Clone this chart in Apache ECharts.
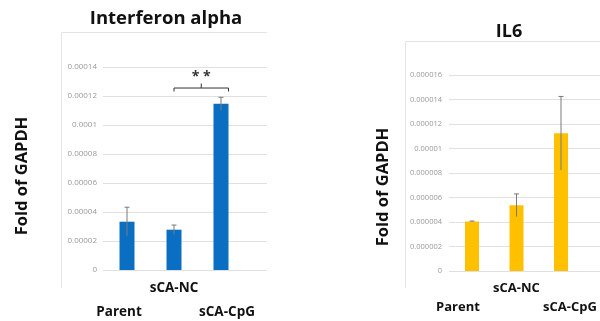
<!DOCTYPE html>
<html><head><meta charset="utf-8">
<script src="https://cdn.jsdelivr.net/npm/echarts@6/dist/echarts.min.js"></script>
<style>html,body{margin:0;padding:0;background:#fff}#c{width:600px;height:321px}</style>
</head><body><div id="c"></div>
<script>
const categories = ['Parent', 'sCA-NC', 'sCA-CpG'];
const ifnMean = [0.0000333, 0.0000278, 0.0001146];
const ifnErr  = [0.0000100, 0.0000032, 0.0000045];
const il6Mean = [0.00000404, 0.00000537, 0.00001125];
const il6Err  = [0.00000004, 0.00000092, 0.00000300];
const ifnAxis = { min: 0, max: 0.00014, interval: 0.00002 };
const il6Axis = { min: 0, max: 0.000016, interval: 0.000002 };
const bracket = { from: 1, to: 2, level: 0.0001255, label: '* *' };

const FONT = 'Open Sans';
const fmt = v => parseFloat(v.toFixed(9)).toString();

function errSeries(xi, yi, mean, err, cap) {
  return {
    type: 'custom', xAxisIndex: xi, yAxisIndex: yi, z: 5,
    data: mean.map((m, i) => [i, m, err[i]]),
    renderItem: (p, api) => {
      const x = api.value(0), m = api.value(1), e = api.value(2);
      const t = api.coord([x, m + e]), b = api.coord([x, m - e]);
      const st = { stroke: '#7a7a7a', lineWidth: 1 };
      return { type: 'group', children: [
        { type: 'line', shape: { x1: t[0], y1: t[1], x2: b[0], y2: b[1] }, style: st },
        { type: 'line', shape: { x1: t[0] - cap, y1: t[1], x2: t[0] + cap, y2: t[1] }, style: st }
      ]};
    }
  };
}

const labelFmt = (v, i) => i === 1 ? '{m|' + v + '}' : (i === 0 ? '{l|' + v + '}' : '{r|' + v + '}');
function catAxis(gi, margin, lo, shiftL, shiftR, size) {
  const base = { fontFamily: FONT, fontWeight: 'bold', fontSize: size, color: '#111' };
  return {
    type: 'category', gridIndex: gi, data: categories,
    axisLine: { show: false }, axisTick: { show: false },
    axisLabel: {
      interval: 0, margin: margin, formatter: labelFmt,
      rich: {
        m: Object.assign({}, base),
        l: Object.assign({ padding: [lo, shiftL, 0, 0] }, base),
        r: Object.assign({ padding: [lo, 0, 0, shiftR] }, base)
      }
    }
  };
}
function gridYAxis(gi, ax, fs, margin) {
  return {
    type: 'value', gridIndex: gi, min: ax.min, max: ax.max, interval: ax.interval,
    axisLine: { show: false }, axisTick: { show: false },
    axisLabel: { formatter: fmt, fontSize: fs, color: '#999', fontFamily: FONT, margin: margin },
    splitLine: { lineStyle: { color: '#e0e0e0', width: 1 } }
  };
}
function hiddenY(gi, ax) {
  return { type: 'value', gridIndex: gi, min: ax.min, max: ax.max, interval: ax.interval, show: false, splitLine: { show: false } };
}

const chart = echarts.init(document.getElementById('c'), null, { renderer: 'canvas' });
chart.setOption({
  animation: false,
  backgroundColor: '#fff',
  title: [
    { text: 'Interferon alpha', left: 161, top: 4, textAlign: 'center',
      textStyle: { fontFamily: FONT, fontWeight: 'bold', fontSize: 18.5, color: '#111' } },
    { text: 'IL6', left: 504, top: 18, textAlign: 'center',
      textStyle: { fontFamily: FONT, fontWeight: 'bold', fontSize: 18, color: '#111' } }
  ],
  grid: [
    { left: 103, width: 164, top: 67, bottom: 51 },
    { left: 103.5, width: 141, top: 67, bottom: 51 },
    { left: 449, width: 151, top: 75, bottom: 50 },
    { left: 449.75, width: 133.5, top: 75, bottom: 50 }
  ],
  xAxis: [
    { type: 'value', gridIndex: 0, show: false, splitLine: { show: false } },
    catAxis(1, 11, 24, 16, 12, 13.5),
    { type: 'value', gridIndex: 2, show: false, splitLine: { show: false } },
    catAxis(3, 11, 19, 28, 18, 13)
  ],
  yAxis: [
    gridYAxis(0, ifnAxis, 8, 6),
    hiddenY(1, ifnAxis),
    gridYAxis(2, il6Axis, 7.5, 7),
    hiddenY(3, il6Axis)
  ],
  series: [
    { type: 'bar', xAxisIndex: 1, yAxisIndex: 1, data: ifnMean, barWidth: 15,
      itemStyle: { color: '#0a6fc2' } },
    errSeries(1, 1, ifnMean, ifnErr, 2.5),
    { type: 'custom', xAxisIndex: 1, yAxisIndex: 1, z: 6,
      data: [[bracket.from, bracket.to, bracket.level]],
      renderItem: (p, api) => {
        const a = api.coord([api.value(0), api.value(2)]);
        const b = api.coord([api.value(1), api.value(2)]);
        const x1 = a[0], x2 = b[0] + 7.5, y = a[1], xm = (x1 + x2) / 2;
        const st = { stroke: '#333', lineWidth: 1, fill: null };
        return { type: 'group', children: [
          { type: 'polyline', shape: { points: [[x1, y + 3.5], [x1, y], [x2, y], [x2, y + 3.5]] }, style: st },
          { type: 'line', shape: { x1: xm, y1: y, x2: xm, y2: y - 4.5 }, style: st },
          { type: 'text', x: xm, y: y - 11, style: { text: bracket.label, align: 'center', verticalAlign: 'middle',
            fontFamily: FONT, fontWeight: 'bold', fontSize: 14, fill: '#333' } }
        ]};
      }
    },
    { type: 'bar', xAxisIndex: 3, yAxisIndex: 3, data: il6Mean, barWidth: 14,
      itemStyle: { color: '#ffc000' } },
    errSeries(3, 3, il6Mean, il6Err, 2.5)
  ],
  graphic: [
    { type: 'polyline', shape: { points: [[61.5, 288], [61.5, 32.5], [267, 32.5]] }, style: { stroke: '#e4e4e4', fill: null, lineWidth: 1 } },
    { type: 'polyline', shape: { points: [[405.5, 288], [405.5, 41.5], [600, 41.5]] }, style: { stroke: '#e4e4e4', fill: null, lineWidth: 1 } },
    { type: 'text', x: 22, y: 176, rotation: Math.PI / 2,
      style: { text: 'Fold of GAPDH', align: 'center', verticalAlign: 'middle', fontFamily: FONT, fontWeight: 'bold', fontSize: 16.5, fill: '#111' } },
    { type: 'text', x: 383, y: 187, rotation: Math.PI / 2,
      style: { text: 'Fold of GAPDH', align: 'center', verticalAlign: 'middle', fontFamily: FONT, fontWeight: 'bold', fontSize: 16.5, fill: '#111' } }
  ]
});
</script></body></html>
